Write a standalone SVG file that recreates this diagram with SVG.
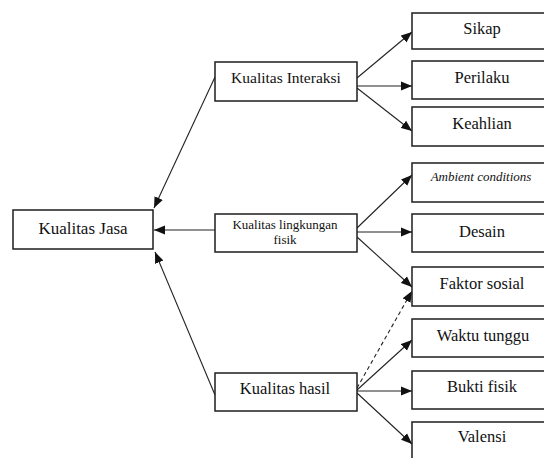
<svg xmlns="http://www.w3.org/2000/svg" width="544" height="458" viewBox="0 0 544 458">
<style>
.box{fill:#fff;stroke:#1e1e1e;stroke-width:1.5}
.t{font-family:"Liberation Serif","Times New Roman",serif;fill:#111;text-anchor:middle}
.r{font-size:16.5px}
.c{fill:none;stroke:#222;stroke-width:1.1}
.d{stroke-dasharray:4 3}
</style>
<defs>
<marker id="ah" markerUnits="userSpaceOnUse" markerWidth="12" markerHeight="10" refX="11" refY="5" orient="auto">
<path d="M0,0.5 L11,5 L0,9.5 z" fill="#111"/>
</marker>
</defs>
<rect width="544" height="458" fill="#fff"/>
<g id="connectors">
<line class="c" x1="215" y1="77" x2="154" y2="208" marker-end="url(#ah)"/>
<line class="c" x1="215" y1="230" x2="154" y2="230" marker-end="url(#ah)"/>
<line class="c" x1="215" y1="395" x2="155" y2="252" marker-end="url(#ah)"/>
<line class="c" x1="357" y1="78" x2="412" y2="32" marker-end="url(#ah)"/>
<line class="c" x1="357" y1="86" x2="412" y2="86" marker-end="url(#ah)"/>
<line class="c" x1="357" y1="88" x2="412" y2="131" marker-end="url(#ah)"/>
<line class="c" x1="357" y1="228" x2="412" y2="175" marker-end="url(#ah)"/>
<line class="c" x1="357" y1="232" x2="412" y2="232" marker-end="url(#ah)"/>
<line class="c" x1="357" y1="237" x2="412" y2="287" marker-end="url(#ah)"/>
<line class="c d" x1="357" y1="388" x2="412" y2="291" marker-end="url(#ah)"/>
<line class="c" x1="357" y1="390" x2="412" y2="340" marker-end="url(#ah)"/>
<line class="c" x1="357" y1="391" x2="412" y2="391" marker-end="url(#ah)"/>
<line class="c" x1="357" y1="393" x2="412" y2="444" marker-end="url(#ah)"/>
</g>
<g id="kualitas-jasa"><rect class="box" x="13" y="210" width="140" height="39"/><text class="t" x="83" y="234" font-size="17">Kualitas Jasa</text></g>
<g id="kualitas-interaksi"><rect class="box" x="215" y="62" width="142" height="39"/><text class="t" x="286" y="83" font-size="15.5">Kualitas Interaksi</text></g>
<g id="kualitas-lingkungan"><rect class="box" x="215" y="214" width="142" height="38"/><text class="t" x="285" y="229" font-size="13">Kualitas lingkungan</text><text class="t" x="285" y="244" font-size="13">fisik</text></g>
<g id="kualitas-hasil"><rect class="box" x="215" y="373" width="142" height="38"/><text class="t" x="285" y="394" font-size="16.5">Kualitas hasil</text></g>
<g id="sikap"><rect class="box" x="412" y="13" width="140" height="36"/><text class="t r" x="482" y="34">Sikap</text></g>
<g id="perilaku"><rect class="box" x="412" y="61" width="140" height="38"/><text class="t r" x="482" y="83">Perilaku</text></g>
<g id="keahlian"><rect class="box" x="412" y="107" width="140" height="39"/><text class="t r" x="482" y="129">Keahlian</text></g>
<g id="ambient"><rect class="box" x="412" y="163" width="140" height="39"/><text class="t" x="481" y="181" font-size="13" font-style="italic">Ambient conditions</text></g>
<g id="desain"><rect class="box" x="412" y="214" width="140" height="38"/><text class="t r" x="482" y="237">Desain</text></g>
<g id="faktor-sosial"><rect class="box" x="412" y="267" width="140" height="39"/><text class="t r" x="482" y="289">Faktor sosial</text></g>
<g id="waktu-tunggu"><rect class="box" x="412" y="319" width="140" height="38"/><text class="t r" x="483" y="341">Waktu tunggu</text></g>
<g id="bukti-fisik"><rect class="box" x="412" y="371" width="140" height="38"/><text class="t r" x="482" y="392">Bukti fisik</text></g>
<g id="valensi"><rect class="box" x="412" y="422" width="140" height="50"/><text class="t r" x="482" y="442">Valensi</text></g>
</svg>
